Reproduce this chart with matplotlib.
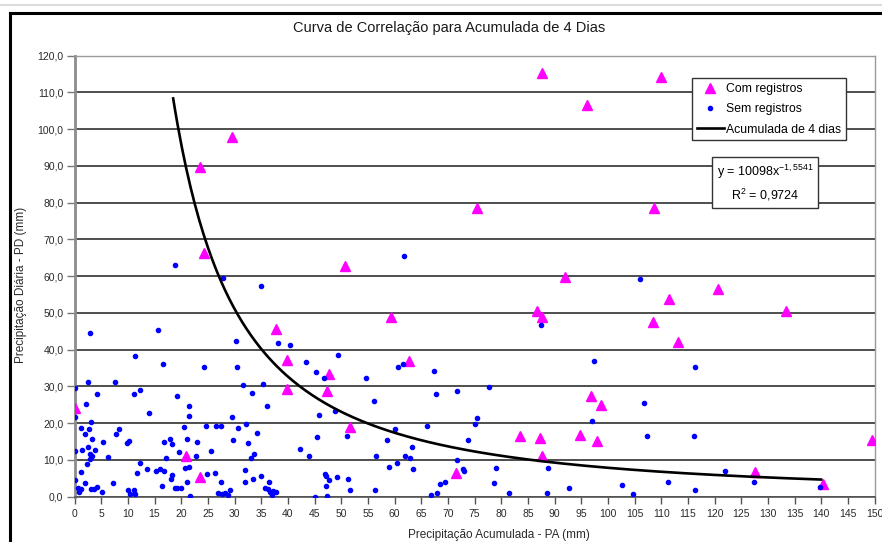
import matplotlib
matplotlib.use("Agg")
import matplotlib.pyplot as plt
import numpy as np
from matplotlib import font_manager
from matplotlib.ticker import FuncFormatter, MultipleLocator
from matplotlib.lines import Line2D

# ---------------- data ----------------
title = "Curva de Correlação para Acumulada de 4 Dias"
xlabel = "Precipitação Acumulada - PA (mm)"
ylabel = "Precipitação Diária - PD (mm)"

# "Com registros" (magenta triangles)
com_x = [0.0, 20.9, 23.5, 37.7, 59.4, 39.8, 62.8, 47.7, 39.8, 47.4, 51.6, 71.6,
         92.0, 86.7, 87.6, 111.5, 108.5, 113.2, 96.8, 98.7, 83.5, 87.2, 94.8, 97.9,
         87.7, 120.7, 133.4, 127.5, 140.3, 149.6, 29.6, 23.6, 24.2, 50.8, 87.6,
         110.0, 96.1, 75.5, 108.7]
com_y = [24.1, 11.2, 5.3, 45.7, 48.9, 37.1, 36.8, 33.3, 29.3, 28.7, 19.1, 6.4,
         59.7, 50.6, 48.8, 53.9, 47.5, 42.1, 27.4, 25.0, 16.6, 16.1, 16.8, 15.2,
         11.1, 56.5, 50.4, 6.6, 3.5, 15.4, 97.8, 89.6, 66.3, 62.7, 115.4,
         114.2, 106.7, 78.6, 78.6]

# "Sem registros" (blue dots)
sem_x = [2.9, 15.6, 11.3, 16.5, 24.3, 30.3, 30.5, 31.6, 35.4, 35.0, 38.2, 0.0,
         2.5, 7.5, 4.2, 2.2, 12.3, 11.2, 19.2, 14.0, 21.4, 21.4, 29.6, 33.2,
         36.1, 0.0, 1.2, 3.1, 2.0, 2.7, 3.3, 2.5, 0.0, 1.4, 3.9, 2.85, 3.2, 2.9,
         2.3, 1.3, 0.0, 0.7, 1.2, 0.8, 2.0, 3.0, 3.6, 4.2, 5.1, 5.4, 6.3, 7.3,
         7.8, 8.3, 9.8, 10.2, 10.1, 10.4, 11.2, 11.4, 11.7, 12.3, 13.5, 15.3,
         16.0, 16.7, 16.4, 16.8, 17.9, 18.2, 17.2, 19.6, 20.5, 21.0, 22.9, 22.7,
         20.7, 21.5, 21.1, 18.3, 18.0, 18.9, 19.3, 19.9, 21.7, 24.7, 26.5, 27.5,
         25.6, 24.9, 26.4, 27.4, 26.9, 27.7, 28.2, 28.7, 29.2, 29.7, 30.7, 32.2,
         32.5, 33.7, 33.1, 34.2, 32.0, 31.9, 33.4, 34.9, 35.7, 36.5, 36.2, 36.7,
         37.3, 37.8, 37.0,
         40.4, 43.4, 45.3, 46.7, 49.4, 54.6, 56.1, 60.7, 61.6, 67.4, 67.8, 71.8,
         77.7, 75.5, 75.0, 73.8, 45.9, 48.9, 45.4, 42.3, 44.0, 51.1, 58.5, 60.1,
         63.3, 56.6, 62.0, 62.9, 66.0, 71.8, 58.9, 60.5, 63.5, 72.8, 73.1, 46.9,
         47.1, 47.8, 47.1, 49.2, 51.3, 51.7, 56.3, 47.4, 45.1, 68.5, 69.4, 68.0,
         66.9,
         87.5, 97.4, 116.4, 106.7, 97.0, 107.4, 116.1, 79.0, 88.8, 78.6, 81.4,
         88.5, 92.8, 102.7, 104.8, 111.2, 116.3, 106.1, 121.9, 127.4, 139.7,
         18.9, 27.8, 61.8]
sem_y = [44.5, 45.4, 38.3, 36.1, 35.2, 42.3, 35.4, 30.4, 30.7, 57.4, 41.9, 29.7,
         31.1, 31.1, 28.0, 25.3, 29.1, 28.0, 27.4, 22.8, 24.6, 21.9, 21.7, 28.3,
         24.6, 21.7, 18.6, 20.3, 17.0, 18.4, 15.6, 13.6, 12.5, 12.7, 12.7, 11.6,
         11.1, 10.2, 8.8, 6.6, 4.5, 2.3, 2.0, 1.4, 3.6, 2.0, 2.0, 2.6, 1.3, 15.0,
         10.9, 3.7, 17.0, 18.4, 14.7, 15.2, 1.8, 0.7, 1.8, 0.6, 6.5, 9.3, 7.5,
         7.1, 7.5, 7.0, 2.8, 15.0, 15.6, 14.3, 10.6, 12.1, 18.9, 15.6, 14.9,
         11.2, 7.9, 8.1, 4.0, 5.9, 4.8, 2.3, 2.3, 2.3, 0.3, 19.3, 19.3, 19.3,
         12.5, 6.2, 6.5, 4.0, 0.9, 0.6, 1.1, 0.5, 1.8, 15.3, 18.6, 19.7, 14.7,
         11.5, 10.6, 17.3, 7.3, 4.0, 4.7, 5.6, 2.3, 4.0, 2.0, 1.3, 1.6, 1.3, 0.5,
         41.2, 36.6, 33.9, 32.3, 38.5, 32.2, 26.1, 35.4, 36.1, 34.1, 28.0, 28.8,
         29.9, 21.5, 19.9, 15.3, 22.3, 23.4, 16.2, 13.1, 11.1, 16.6, 15.3, 18.5,
         13.6, 11.2, 11.2, 10.6, 19.2, 10.0, 8.1, 9.2, 7.5, 7.6, 7.0, 6.2, 5.7,
         4.5, 3.0, 5.3, 4.8, 1.7, 1.7, 0.3, 0.0, 3.5, 3.9, 0.9, 0.4,
         46.8, 36.9, 35.4, 25.5, 20.5, 16.5, 16.5, 7.8, 7.8, 3.7, 0.9, 0.9, 2.3,
         3.2, 0.6, 4.0, 1.8, 59.3, 7.0, 4.0, 2.6,
         63.1, 59.5, 65.4]

# Power trendline shown on the chart: y = 10098 x^-1.5541 (R^2 = 0.9724)
trend_a = 10098
trend_b = -1.5541
trend_r2 = 0.9724
trend_xmin = 18.5
trend_xmax = 140

legend_labels = ["Com registros", "Sem registros", "Acumulada de 4 dias"]

# ---------------- fonts ----------------
names = {f.name for f in font_manager.fontManager.ttflist}
base = "Liberation Sans" if "Liberation Sans" in names else "DejaVu Sans"
plt.rcParams["font.family"] = [base, "DejaVu Sans"]
plt.rcParams["mathtext.default"] = "regular"

W, H = 882, 542
fig = plt.figure(figsize=(W / 100, H / 100), dpi=100)
fig.patch.set_facecolor("white")


def fx(px):
    return px / W


def fy(py):
    return 1 - py / H


x0, x1 = 74.5, 874.5
ytop, ybot = 55.7, 496.7
ax = fig.add_axes([fx(x0), fy(ybot), fx(x1) - fx(x0), fy(ytop) - fy(ybot)])

ax.set_xlim(0, 150)
ax.set_ylim(0, 120)

# grid
ax.yaxis.set_major_locator(MultipleLocator(10))
ax.xaxis.set_major_locator(MultipleLocator(5))
ax.yaxis.grid(True, color="#1e1e1e", linewidth=1.1, zorder=1)
ax.set_axisbelow(True)

# data
ax.plot(com_x, com_y, linestyle="none", marker="^", markersize=7,
        color="#ff00ff", markeredgecolor="#ff00ff", zorder=3,
        label=legend_labels[0])
ax.plot(sem_x, sem_y, linestyle="none", marker="o", markersize=3.0,
        color="#0000ff", markeredgecolor="#0000ff", zorder=4,
        label=legend_labels[1])
tx = np.linspace(trend_xmin, trend_xmax, 300)
ax.plot(tx, trend_a * tx ** trend_b, color="black", linewidth=1.9, zorder=5,
        label=legend_labels[2])

# spines
for s in ["top", "right"]:
    ax.spines[s].set_color("#9a9a9a")
    ax.spines[s].set_linewidth(1.0)
ax.spines["left"].set_color("#8c8c8c")
ax.spines["left"].set_linewidth(2.0)
ax.spines["bottom"].set_color("#555555")
ax.spines["bottom"].set_linewidth(1.2)

ax.yaxis.set_major_formatter(FuncFormatter(lambda v, p: f"{v:.1f}".replace(".", ",")))
ax.xaxis.set_major_formatter(FuncFormatter(lambda v, p: f"{int(round(v))}"))
ax.tick_params(axis="y", direction="out", length=6, width=1.0, color="#777777",
               labelsize=7.5, labelcolor="#2a2a2a", pad=2)
ax.tick_params(axis="x", direction="out", length=5, width=1.0, color="#555555",
               labelsize=7.5, labelcolor="#2a2a2a", pad=4)

# legend
leg = ax.legend(loc="upper left", bbox_to_anchor=(fx(692.3), fy(78.3)),
                bbox_transform=fig.transFigure, borderaxespad=0,
                fontsize=8.8, frameon=True, fancybox=False, framealpha=1,
                edgecolor="#333333", handlelength=2.2, handletextpad=0.2,
                labelspacing=0.68, borderpad=0.38, numpoints=1)
leg.get_frame().set_linewidth(1.0)
leg.set_zorder(10)

# equation box
ax.text(fx(765), fy(183), "y = 10098x$^{-1,5541}$\nR$^{2}$ = 0,9724",
        transform=fig.transFigure, ha="center", va="center",
        fontsize=9, linespacing=1.5, multialignment="center",
        bbox=dict(boxstyle="square,pad=0.35", facecolor="white",
                  edgecolor="#333333", linewidth=1.0), zorder=10)

# texts
fig.text(fx(449), fy(28), title, ha="center", va="center", fontsize=10.5,
         color="#1a1a1a")
fig.text(fx(499), fy(535), xlabel, ha="center", va="center", fontsize=8.5,
         color="#2a2a2a")
fig.text(fx(21), fy(285), ylabel, ha="center", va="center", rotation=90,
         fontsize=8.5, color="#2a2a2a")

# outer chart frame
fig.add_artist(Line2D([fx(0), fx(W)], [fy(5), fy(5)], color="#dcdcdc", linewidth=1.5))
fig.add_artist(Line2D([fx(10), fx(W)], [fy(13), fy(13)], color="black", linewidth=2.2))
fig.add_artist(Line2D([fx(10), fx(10)], [fy(13), fy(H)], color="black", linewidth=2.2))

fig.savefig("out.png", dpi=100)
